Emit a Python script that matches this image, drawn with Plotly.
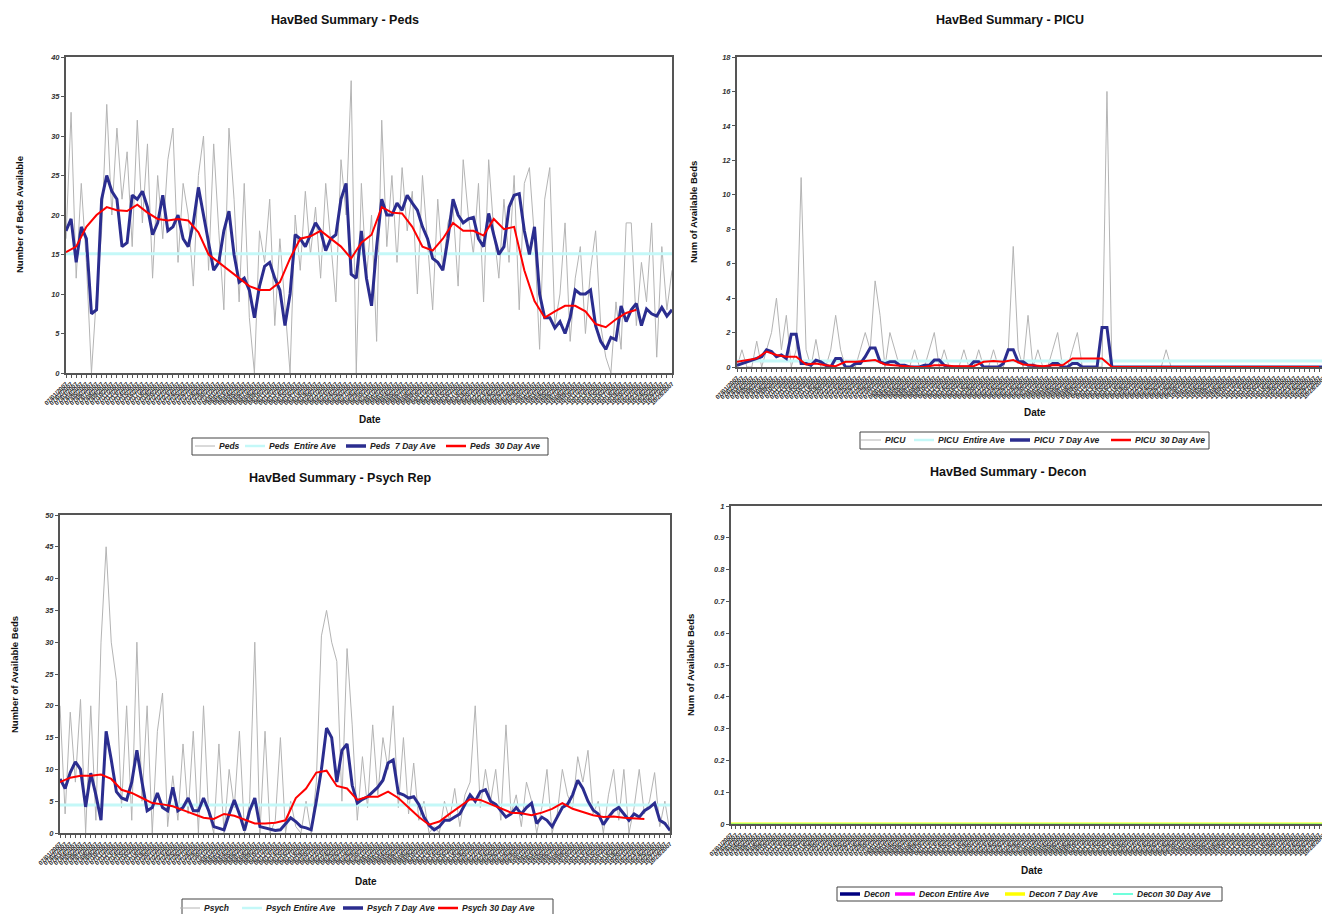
import plotly.graph_objects as go
import pandas as pd

# ---------------- data ----------------
START_DATE = "2007-07-01"
N_DAYS = 120
dates = [d.strftime("%m/%d/%Y") for d in pd.date_range(START_DATE, periods=N_DAYS)]
dates_2 = dates[::2]  # averages read every 2nd day

# Peds
peds_raw = [17, 33, 12, 24, 14, 0, 10, 18, 34, 20, 31, 22, 28, 16, 32, 19, 29, 12, 25, 17,
            27, 31, 14, 24, 20, 11, 25, 30, 13, 29, 18, 8, 31, 22, 9, 24, 7, 0, 18, 14,
            22, 6, 17, 9, 0, 20, 13, 23, 15, 21, 12, 24, 16, 9, 27, 20, 37, 0, 24, 12,
            20, 4, 32, 16, 25, 14, 26, 18, 23, 10, 25, 17, 8, 22, 13, 19, 21, 11, 27, 20,
            15, 24, 9, 27, 18, 12, 22, 14, 25, 8, 24, 26, 17, 3, 22, 26, 6, 10, 19, 4,
            12, 16, 5, 13, 18, 6, 2, 0, 9, 3, 19, 19, 6, 14, 9, 19, 2, 16, 8, 13]
peds_entire_ave = 15.1
peds_7day = [18, 19.5, 14, 18.5, 17, 7.5, 8, 22, 25, 23, 22, 16, 16.5, 22.5, 22, 23, 21, 17.5, 19, 22.5,
             18, 18.5, 20, 17, 16, 19, 23.5, 20, 16.5, 13, 14, 18, 20.5, 15, 11.5, 12, 10.5, 7, 11, 13.5,
             14, 12, 10.5, 6, 10, 17.5, 17, 16, 17.5, 19, 18, 15.5, 17, 17.5, 22, 24, 12.5, 12, 18, 12,
             8.5, 16, 22, 20, 20, 21.5, 20.6, 22.5, 21.5, 20.6, 18.5, 17, 14.5, 14, 13, 17, 22, 20, 19, 19.5,
             19.7, 17, 16, 20.2, 17.5, 15, 16, 21, 22.5, 22.7, 18, 15, 18.5, 10, 7, 7, 5.7, 6.5, 5, 7,
             10.5, 10, 10, 10.5, 6, 4, 3, 4.5, 4.2, 8.5, 6.5, 8, 8.8, 6, 8.1, 7.5, 7.2, 8.3, 7.2, 8]
peds_30day = [15.3, 16, 18.5, 20, 21, 20.6, 20.5, 21.3, 20.3, 19.5, 19.3, 19.5, 19.3, 17.8, 15, 14, 13, 12, 11, 10.5,
              10.5, 11.5, 14.5, 17, 17.3, 18, 17, 16, 14.5, 16.5, 17.5, 21, 20.3, 20.2, 18.5, 16, 15.5, 17, 19, 18,
              18, 17.4, 19.5, 18.2, 18.5, 13, 9.1, 7, 7.8, 8.5, 8.5, 7.8, 6.2, 5.8, 6.8, 7.6, 8]

# PICU
picu_raw = [0, 1, 0, 0, 1.5, 0, 1, 2, 4, 1, 3, 0, 1, 11, 1, 0, 1.6, 0, 0, 1,
            3, 1, 0, 0, 0, 1, 2, 1, 5, 3, 0, 2, 1, 0, 0, 0, 1, 0, 0, 1,
            2, 0, 1, 0, 0, 0, 1, 0, 0, 1, 0, 0, 1, 0, 0, 1, 7, 1, 0, 3,
            0, 1, 0, 0, 1, 2, 0, 0, 1, 2, 0, 0, 0, 0, 0, 16, 0, 0, 0, 0,
            0, 0, 0, 0, 0, 0, 0, 1, 0, 0, 0, 0, 0, 0, 0, 0, 0, 0, 0, 0,
            0, 0, 0, 0, 0, 0, 0, 0, 0, 0, 0, 0, 0, 0, 0, 0, 0, 0, 0, 0]
picu_entire_ave = 0.35
picu_7day = [0.1, 0.2, 0.3, 0.4, 0.5, 0.6, 1.0, 0.9, 0.6, 0.7, 0.5, 1.9, 1.9, 0.2, 0.2, 0.1, 0.4, 0.3, 0.1, 0,
             0.5, 0.5, 0, 0, 0.2, 0.2, 0.6, 1.1, 1.1, 0.3, 0.2, 0.3, 0.3, 0.1, 0.1, 0, 0, 0, 0.1, 0.1,
             0.4, 0.4, 0.1, 0, 0, 0, 0, 0, 0.3, 0.3, 0, 0, 0, 0, 0.2, 1.0, 1.0, 0.3, 0.3, 0.1,
             0.1, 0, 0, 0, 0.2, 0.2, 0, 0, 0.2, 0.2, 0, 0, 0, 0, 2.3, 2.3, 0, 0, 0, 0,
             0, 0, 0, 0, 0, 0, 0, 0, 0, 0, 0, 0, 0, 0, 0, 0, 0, 0, 0, 0,
             0, 0, 0, 0, 0, 0, 0, 0, 0, 0, 0, 0, 0, 0, 0, 0, 0, 0, 0, 0]
picu_30day = [0.3, 0.4, 0.5, 0.9, 0.7, 0.6, 0.6, 0.15, 0.2, 0.1, 0.05, 0.3, 0.3, 0.35, 0.4, 0.15, 0.1, 0.05, 0, 0,
              0.1, 0.1, 0.05, 0.05, 0.05, 0.3, 0.35, 0.3, 0.4, 0.15, 0.1, 0.05, 0.1, 0.1, 0.5, 0.5, 0.5, 0.5, 0, 0,
              0, 0, 0, 0, 0, 0, 0, 0, 0, 0, 0, 0, 0, 0, 0, 0, 0, 0, 0, 0]

# Psych Rep
psych_raw = [20, 3, 19, 8, 21, 0, 20, 2, 30, 45, 30, 24, 4, 20, 2, 30, 5, 20, 0, 16,
             22, 1, 9, 2, 14, 3, 16, 0, 20, 3, 0, 14, 0, 10, 4, 16, 0, 5, 30, 0,
             16, 0, 2, 15, 0, 5, 1, 0, 5, 0, 8, 31, 35, 30, 27, 5, 29, 17, 2, 12,
             4, 17, 6, 15, 10, 20, 4, 15, 3, 11, 2, 5, 0, 1, 0, 5, 2, 7, 1, 6,
             8, 20, 4, 10, 5, 10, 2, 17, 3, 6, 1, 8, 5, 0, 4, 10, 0, 3, 10, 6,
             4, 12, 8, 13, 3, 5, 0, 6, 10, 2, 10, 0, 4, 10, 3, 5, 9.5, 1, 5, 0]
psych_entire_ave = 4.4
psych_7day = [8.5, 7, 9.5, 11.2, 10, 4.1, 9.4, 6, 2, 16, 11.5, 6.5, 5.5, 5.2, 8, 13, 8, 3.5, 4, 6.3,
              4, 3.5, 7.2, 3.5, 4, 5.5, 3.5, 3.5, 5.5, 3.5, 1, 0.8, 0.5, 3, 5.2, 3, 0.4, 3.5, 5.5, 1,
              0.8, 0.5, 0.4, 0.5, 1.5, 2.4, 1.8, 1, 0.8, 0.5, 5, 10, 16.5, 15, 8, 13, 14, 7.5, 4.7, 5.3,
              5.7, 6.5, 7.2, 8.3, 11, 11.5, 6.3, 6, 5.5, 5.7, 4.5, 2.5, 1.2, 0.5, 1, 2, 2, 2.5, 3, 4.5,
              6, 5, 6.5, 6.8, 5, 4.5, 3.5, 2.5, 3, 4, 3, 4, 4.7, 1.5, 2.5, 2, 1, 2.5, 4, 4.5,
              6, 8.3, 7, 5, 3.6, 3, 1.3, 2.5, 3.5, 4, 3, 2, 3, 2.5, 3.5, 4, 4.7, 2, 1.5, 0.4]
psych_30day = [8, 8.7, 9, 9, 9.2, 8.5, 6.8, 6.3, 5.5, 4.7, 4.5, 4.2, 3.6, 3, 2.4, 2.2, 3, 2.7, 2.1, 1.5,
               1.5, 1.6, 2, 5.5, 7, 9.5, 9.8, 7.4, 7, 5.2, 5.7, 5.7, 6.5, 5.5, 4, 2.5, 1.3, 1.8, 3, 4.2,
               5.3, 5.2, 4.5, 3.8, 3.2, 3.1, 2.8, 3.2, 3.8, 4.7, 3.8, 3.3, 2.8, 2.5, 2.6, 2.4, 2.3, 2.2]

# Decon (all zero)
decon_raw = [0] * N_DAYS
decon_entire_ave = 0
decon_7day = [0] * N_DAYS
decon_30day = [0] * N_DAYS

# ---------------- styles ----------------
FONT = "Liberation Sans, Arial, sans-serif"
GREY = "#b4b4b4"
CYAN = "#c4f8f8"
NAVY = "#2b2d8f"
RED = "#ff0000"
PAGE_OFF = 8            # default page body margin
W, H = 1330 - PAGE_OFF, 914 - PAGE_OFF

def px_x(p):
    return (p - PAGE_OFF) / W

def px_y(p):
    return 1 - (p - PAGE_OFF) / H

fig = go.Figure()

def add_chart(idx, raw, entire, d7, d30, name):
    xa = "x" if idx == 1 else f"x{idx}"
    ya = "y" if idx == 1 else f"y{idx}"
    fig.add_trace(go.Scatter(x=dates, y=raw, mode="lines", name=name,
                             line=dict(color=GREY, width=1), xaxis=xa, yaxis=ya))
    fig.add_trace(go.Scatter(x=dates, y=[entire] * len(dates), mode="lines", name=f"{name} Entire Ave",
                             line=dict(color=CYAN, width=3), xaxis=xa, yaxis=ya))
    fig.add_trace(go.Scatter(x=dates[:len(d7)], y=d7, mode="lines", name=f"{name} 7 Day Ave",
                             line=dict(color=NAVY, width=3), xaxis=xa, yaxis=ya))
    fig.add_trace(go.Scatter(x=dates_2[:len(d30)], y=d30, mode="lines", name=f"{name} 30 Day Ave",
                             line=dict(color=RED, width=2), xaxis=xa, yaxis=ya))

add_chart(1, peds_raw, peds_entire_ave, peds_7day, peds_30day, "Peds")
add_chart(2, picu_raw, picu_entire_ave, picu_7day, picu_30day, "PICU")
add_chart(3, psych_raw, psych_entire_ave, psych_7day, psych_30day, "Psych")

DECON_COLORS = ["#000080", "#ff00ff", "#ffff00", "#40ffd0"]
fig.add_trace(go.Scatter(x=dates, y=decon_raw, mode="lines", name="Decon",
                         line=dict(color=DECON_COLORS[0], width=2), xaxis="x4", yaxis="y4"))
fig.add_trace(go.Scatter(x=dates, y=[decon_entire_ave] * len(dates), mode="lines", name="Decon Entire Ave",
                         line=dict(color=DECON_COLORS[1], width=2), xaxis="x4", yaxis="y4"))
fig.add_trace(go.Scatter(x=dates, y=decon_7day, mode="lines", name="Decon 7 Day Ave",
                         line=dict(color=DECON_COLORS[2], width=3), xaxis="x4", yaxis="y4"))
fig.add_trace(go.Scatter(x=dates, y=decon_30day, mode="lines", name="Decon 30 Day Ave",
                         line=dict(color=DECON_COLORS[3], width=1.5), opacity=0.6,
                         xaxis="x4", yaxis="y4"))

def xaxis(dom, anchor):
    return dict(domain=[px_x(dom[0]), px_x(dom[1])], anchor=anchor, type="category",
                tickmode="array", tickvals=dates, ticktext=dates, tickangle=-45,
                tickfont=dict(size=6, color="#222", family=FONT, weight="bold"),
                ticks="outside", ticklen=3, tickcolor="#555", automargin=False,
                showline=True, mirror=True, linecolor="#555", linewidth=2,
                showgrid=False, zeroline=False, range=[0, N_DAYS - 1])

def yaxis(dom, anchor, rng, dtick):
    return dict(domain=[px_y(dom[1]), px_y(dom[0])], anchor=anchor, range=rng, dtick=dtick,
                tickfont=dict(size=7.5, color="#333", family=FONT, style="italic", weight="bold"),
                ticks="outside", ticklen=3, tickcolor="#555", automargin=False,
                showline=True, mirror=True, linecolor="#555", linewidth=2,
                showgrid=False, zeroline=False)

fig.update_layout(
    width=W, height=H, margin=dict(l=0, r=0, t=0, b=0, autoexpand=False),
    paper_bgcolor="white", plot_bgcolor="white", showlegend=False,
    xaxis=xaxis((66, 672), "y"), yaxis=yaxis((57, 373), "x", [0, 40], 5),
    xaxis2=xaxis((737, 1324), "y2"), yaxis2=yaxis((57, 367), "x2", [0, 18], 2),
    xaxis3=xaxis((60, 670), "y3"), yaxis3=yaxis((515, 833), "x3", [0, 50], 5),
    xaxis4=xaxis((731, 1324), "y4"), yaxis4=yaxis((506, 824), "x4", [0, 1], 0.1),
)

def ann(text, x, y, size, angle=0, xanchor="center", italic=False, color="#111"):
    fig.add_annotation(text=text, x=px_x(x), y=px_y(y), xref="paper", yref="paper",
                       showarrow=False, textangle=angle, xanchor=xanchor, yanchor="middle",
                       font=dict(size=size, family=FONT, weight="bold", color=color,
                                 style="italic" if italic else "normal"))

ann("HavBed Summary - Peds", 345, 20, 12.5)
ann("HavBed Summary - PICU", 1010, 20, 12.5)
ann("HavBed Summary - Psych Rep", 340, 478, 12.5)
ann("HavBed Summary - Decon", 1008, 472, 12.5)
ann("Number of Beds Available", 20, 215, 9.5, -90)
ann("Num of Available Beds", 693, 212, 9.5, -90)
ann("Number of Available Beds", 14, 675, 9.5, -90)
ann("Num of Available Beds", 690, 665, 9.5, -90)
ann("Date", 370, 419, 10)
ann("Date", 1035, 412, 10)
ann("Date", 366, 881, 10)
ann("Date", 1032, 870, 10)

# ---------------- legends (boxes drawn like the original Excel legends) ----------------
def draw_legend(box, cy, text_starts, names, colors, widths, line_len=20, font_size=8.5):
    x0, x1, y0, y1 = box
    fig.add_shape(type="rect", xref="paper", yref="paper",
                  x0=px_x(x0), x1=px_x(x1), y0=px_y(y1), y1=px_y(y0),
                  line=dict(color="#444", width=1), fillcolor="white", layer="above")
    for ts, nm, col, wd in zip(text_starts, names, colors, widths):
        fig.add_shape(type="line", xref="paper", yref="paper",
                      x0=px_x(ts - line_len - 2), x1=px_x(ts - 2), y0=px_y(cy), y1=px_y(cy),
                      line=dict(color=col, width=wd), layer="above")
        ann(nm, ts, cy, font_size, xanchor="left", italic=True, color="#222")

LEG_COLORS = [GREY, CYAN, NAVY, RED]
LEG_WIDTHS = [1, 2.5, 3.5, 2.5]
draw_legend((192, 548, 438, 455), 446, [217, 267, 368, 468],
            ["Peds", "Peds  Entire Ave", "Peds  7 Day Ave", "Peds  30 Day Ave"], LEG_COLORS, LEG_WIDTHS)
draw_legend((860, 1209, 432, 449), 440, [883, 936, 1032, 1133],
            ["PICU", "PICU  Entire Ave", "PICU  7 Day Ave", "PICU  30 Day Ave"], LEG_COLORS, LEG_WIDTHS)
draw_legend((182, 553, 899, 918), 908, [202, 264, 365, 460],
            ["Psych", "Psych Entire Ave", "Psych 7 Day Ave", "Psych 30 Day Ave"], LEG_COLORS, LEG_WIDTHS)
draw_legend((837, 1222, 887, 901), 894, [862, 917, 1027, 1135],
            ["Decon", "Decon Entire Ave", "Decon 7 Day Ave", "Decon 30 Day Ave"],
            DECON_COLORS, [3.5, 3.5, 3.5, 1.5])

fig.write_html("out.html")
